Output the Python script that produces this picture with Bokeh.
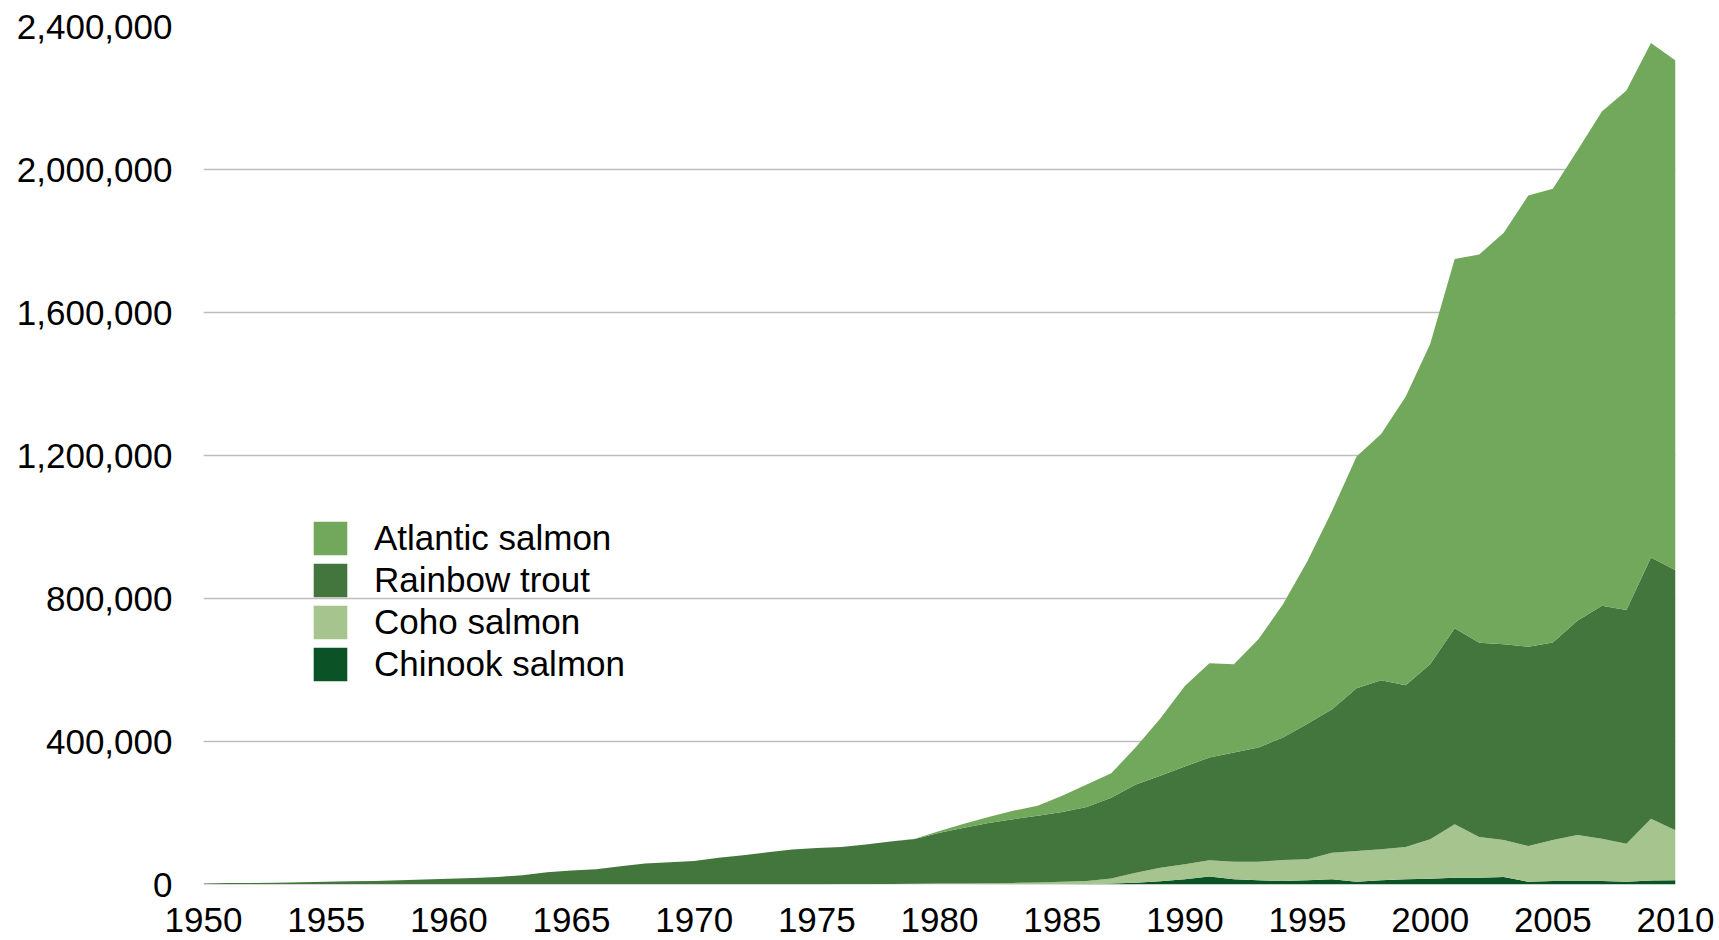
from bokeh.plotting import figure
from bokeh.models import (ColumnDataSource, FixedTicker, NumeralTickFormatter,
                          Legend, LegendItem, Range1d)
from bokeh.embed import file_html
from bokeh.resources import INLINE

years = list(range(1950, 2011))

chinook = [0] * 32 + [
    500, 500, 1000, 1000, 1500, 2500, 5000, 9000, 14600, 22400,
    14600, 11700, 9800, 11700, 14600, 8000, 11700, 14600, 16200, 19000,
    19000, 21000, 7800, 10000, 10000, 10000, 8000, 11500, 12000]

coho = [0] * 26 + [
    500, 1000, 1500, 2000, 2500, 3000, 3000, 4000, 4500, 6500,
    8500, 14500, 28000, 38000, 41900, 45300, 49200, 52100, 58800, 58800,
    74400, 85800, 86800, 90400, 110300, 149500, 114000, 103500, 100000, 114500,
    128500, 118200, 106200, 172700, 139700]

rainbow = [
    3000, 4000, 4500, 5000, 6000, 7500, 9000, 10000, 12000, 14000,
    16000, 18000, 21000, 26000, 34000, 39000, 43000, 51000, 59000, 62000,
    66000, 75000, 82000, 90000, 98000, 102000, 104500, 111000, 118500, 125000,
    142500, 156000, 168500, 178000, 186500, 195500, 207000, 226000, 247000, 257000,
    273500, 287300, 305200, 319200, 342400, 379500, 401000, 455200, 473000, 452500,
    489500, 548500, 543000, 547500, 557200, 552500, 599000, 651300, 653800, 730800,
    727300]

atlantic = [0] * 29 + [
    1000, 5000, 11000, 17000, 23500, 28000, 45000, 63000, 68000, 104000,
    160000, 225000, 264000, 247000, 303000, 373000, 455000, 555000, 648000, 688500,
    806500, 896000, 1033000, 1086000, 1151000, 1262000, 1269000, 1315500, 1382500, 1453000,
    1439000, 1426000]

series = ["chinook", "coho", "rainbow", "atlantic"]
labels = {"chinook": "Chinook salmon", "coho": "Coho salmon",
          "rainbow": "Rainbow trout", "atlantic": "Atlantic salmon"}
colors = ["#0B5327", "#A5C48E", "#42763D", "#72A85C"]

x_ticks = list(range(1950, 2011, 5))
y_ticks = [0, 400000, 800000, 1200000, 1600000, 2000000, 2400000]

source = ColumnDataSource(dict(year=years, chinook=chinook, coho=coho,
                               rainbow=rainbow, atlantic=atlantic))

p = figure(width=1719, height=940,
           x_range=Range1d(1950, 2010), y_range=Range1d(0, 2400000),
           output_backend="svg", toolbar_location=None,
           min_border_left=203, min_border_right=44,
           min_border_top=26, min_border_bottom=56)

rs = p.varea_stack(series, x="year", color=colors, source=source)

p.outline_line_color = None
p.background_fill_color = "white"
p.border_fill_color = "white"
p.xgrid.grid_line_color = None
p.ygrid.grid_line_color = "#BDBDBD"
p.ygrid.grid_line_width = 1.3

FONT = "Liberation Sans"
for ax in (p.xaxis[0], p.yaxis[0]):
    ax.axis_line_color = None
    ax.major_tick_line_color = None
    ax.minor_tick_line_color = None
    ax.major_tick_in = 0
    ax.major_tick_out = 0
    ax.minor_tick_in = 0
    ax.minor_tick_out = 0
    ax.major_label_text_font = FONT
    ax.major_label_text_font_size = "35px"
    ax.major_label_text_color = "black"

p.xaxis.ticker = FixedTicker(ticks=x_ticks)
p.yaxis.ticker = FixedTicker(ticks=y_ticks)
p.yaxis.formatter = NumeralTickFormatter(format="0,0")
p.yaxis.major_label_standoff = 31
p.xaxis.major_label_standoff = 23
p.xaxis.major_label_text_line_height = 0.6

order = ["atlantic", "rainbow", "coho", "chinook"]
items = [LegendItem(label=labels[s], renderers=[rs[series.index(s)]]) for s in order]
legend = Legend(items=items, location=(106, 199),
                glyph_width=42, glyph_height=42, label_standoff=23,
                spacing=0, padding=0, margin=0,
                border_line_color=None, background_fill_alpha=0,
                label_text_font=FONT, label_text_font_size="35px",
                label_text_color="black")
p.add_layout(legend)

open("out.html", "w").write(file_html(p, INLINE))
